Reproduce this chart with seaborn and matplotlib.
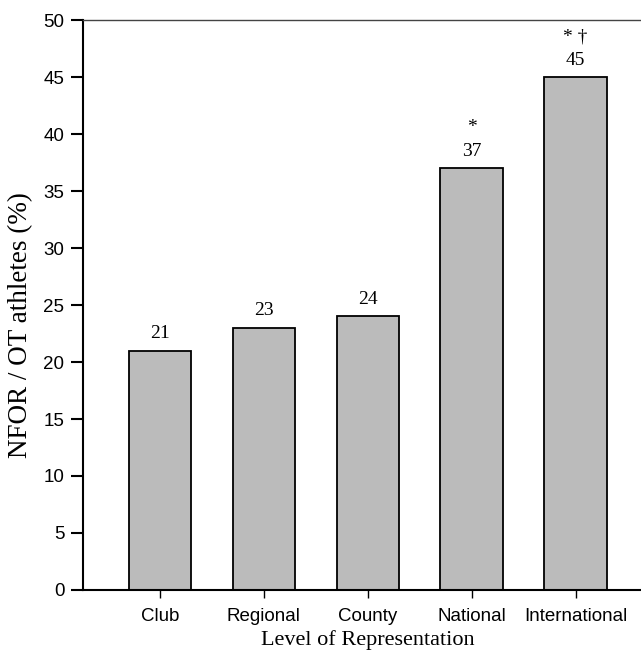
import seaborn as sns
import matplotlib.pyplot as plt
import pandas as pd

levels = ["Club", "Regional", "County", "National", "International"]
nfor_ot = [21, 23, 24, 37, 45]
sig_marks = ["", "", "", "*", "* \u2020"]

df = pd.DataFrame({"level": levels, "pct": nfor_ot})

sns.set_style("ticks")
plt.rcParams["font.family"] = ["Liberation Sans", "DejaVu Sans"]
plt.rcParams["text.color"] = "black"
plt.rcParams["axes.labelcolor"] = "black"
plt.rcParams["xtick.color"] = "black"
plt.rcParams["ytick.color"] = "black"
serif = ["Liberation Serif", "DejaVu Serif"]

fig = plt.figure(figsize=(6.41, 6.52), dpi=100)
ax = fig.add_axes([0.1295, 0.0951, 0.8705, 0.8742])

sns.barplot(data=df, x="level", y="pct", color="#bbbbbb", saturation=1,
            edgecolor="black", linewidth=1.3, width=0.6, ax=ax)

for i, (v, m) in enumerate(zip(nfor_ot, sig_marks)):
    ax.annotate(str(v), (i, v), xytext=(0, 6), textcoords="offset points",
                ha="center", va="bottom", fontsize=14, family=serif)
    if m:
        ax.annotate(m, (i, v), xytext=(0, 23), textcoords="offset points",
                    ha="center", va="bottom", fontsize=14, family=serif)

ax.set_ylim(0, 50)
ax.set_xlim(-0.74, 4.63)
ax.set_yticks(range(0, 51, 5))
ax.tick_params(axis="y", length=8.5, width=1.5, labelsize=13.5, direction="out", pad=5)
ax.tick_params(axis="x", length=6, width=1, labelsize=13.5, direction="out", pad=7)

ax.set_xlabel("Level of Representation", fontsize=16, family=serif)
ax.set_ylabel("NFOR / OT athletes (%)", fontsize=19.5, family=serif)
ax.xaxis.set_label_coords(0.511, -0.071)
ax.yaxis.set_label_coords(-0.09, 0.465)

for s in ["left", "bottom"]:
    ax.spines[s].set_linewidth(1.5)
    ax.spines[s].set_color("black")
ax.spines["top"].set_linewidth(1)
ax.spines["top"].set_color("#444444")
ax.spines["right"].set_visible(False)

fig.savefig("out.png", dpi=100)
